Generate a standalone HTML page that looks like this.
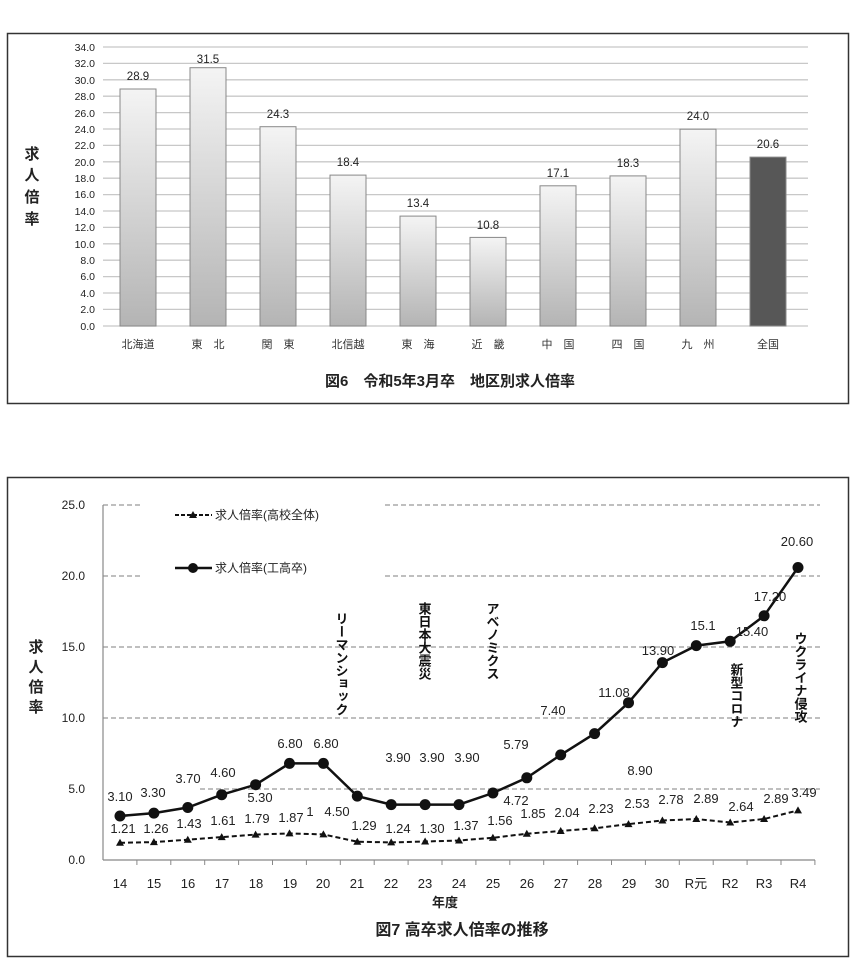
<!DOCTYPE html>
<html><head><meta charset="utf-8"><style>
body{margin:0;background:#fff}
svg{display:block;font-family:"Liberation Sans","Noto Sans CJK JP",sans-serif}
</style></head><body>
<svg width="867" height="965" viewBox="0 0 867 965" xmlns="http://www.w3.org/2000/svg">
<defs>
<linearGradient id="g" x1="0" y1="0" x2="0" y2="1"><stop offset="0" stop-color="#f4f4f4"/><stop offset="1" stop-color="#b4b4b4"/></linearGradient>
</defs>
<rect x="7.5" y="33.5" width="841" height="370" fill="#fff" stroke="#333" stroke-width="1.5"/>
<g stroke="#c8c8c8" stroke-width="1.3">
<line x1="103" x2="808" y1="47" y2="47"/><line x1="103" x2="808" y1="63.4" y2="63.4"/><line x1="103" x2="808" y1="79.8" y2="79.8"/><line x1="103" x2="808" y1="96.2" y2="96.2"/><line x1="103" x2="808" y1="112.6" y2="112.6"/><line x1="103" x2="808" y1="129" y2="129"/><line x1="103" x2="808" y1="145.4" y2="145.4"/><line x1="103" x2="808" y1="161.8" y2="161.8"/><line x1="103" x2="808" y1="178.2" y2="178.2"/><line x1="103" x2="808" y1="194.6" y2="194.6"/><line x1="103" x2="808" y1="211" y2="211"/><line x1="103" x2="808" y1="227.4" y2="227.4"/><line x1="103" x2="808" y1="243.8" y2="243.8"/><line x1="103" x2="808" y1="260.2" y2="260.2"/><line x1="103" x2="808" y1="276.6" y2="276.6"/><line x1="103" x2="808" y1="293" y2="293"/><line x1="103" x2="808" y1="309.4" y2="309.4"/><line x1="103" x2="808" y1="326" y2="326"/>
</g>
<g font-size="10.5" fill="#222" text-anchor="end">
<text x="95" y="51">34.0</text><text x="95" y="67">32.0</text><text x="95" y="84">30.0</text><text x="95" y="100">28.0</text><text x="95" y="117">26.0</text><text x="95" y="133">24.0</text><text x="95" y="149">22.0</text><text x="95" y="166">20.0</text><text x="95" y="182">18.0</text><text x="95" y="198">16.0</text><text x="95" y="215">14.0</text><text x="95" y="231">12.0</text><text x="95" y="248">10.0</text><text x="95" y="264">8.0</text><text x="95" y="280">6.0</text><text x="95" y="297">4.0</text><text x="95" y="313">2.0</text><text x="95" y="330">0.0</text>
</g>
<g stroke="#888" stroke-width="1" fill="url(#g)">
<rect x="120" y="89" width="36" height="237"/>
<rect x="190" y="67.7" width="36" height="258.3"/>
<rect x="260" y="126.7" width="36" height="199.3"/>
<rect x="330" y="175.1" width="36" height="150.9"/>
<rect x="400" y="216.1" width="36" height="109.9"/>
<rect x="470" y="237.4" width="36" height="88.6"/>
<rect x="540" y="185.8" width="36" height="140.2"/>
<rect x="610" y="175.9" width="36" height="150.1"/>
<rect x="680" y="129.2" width="36" height="196.8"/>
<rect x="750" y="157.1" width="36" height="168.9" fill="#575757"/>
</g>
<g font-size="11.5" fill="#222" text-anchor="middle">
<text x="138" y="80">28.9</text><text x="208" y="63">31.5</text><text x="278" y="118">24.3</text><text x="348" y="166">18.4</text><text x="418" y="207">13.4</text><text x="488" y="229">10.8</text><text x="558" y="177">17.1</text><text x="628" y="167">18.3</text><text x="698" y="120">24.0</text><text x="768" y="148">20.6</text>
</g>
<g font-size="11" fill="#333" text-anchor="middle">
<text x="138" y="348">北海道</text><text x="208" y="348">東　北</text><text x="278" y="348">関　東</text><text x="348" y="348">北信越</text><text x="418" y="348">東　海</text><text x="488" y="348">近　畿</text><text x="558" y="348">中　国</text><text x="628" y="348">四　国</text><text x="698" y="348">九　州</text><text x="768" y="348">全国</text>
</g>
<g font-size="15" font-weight="bold" fill="#222" text-anchor="middle">
<text x="32" y="159">求</text><text x="32" y="180">人</text><text x="32" y="202">倍</text><text x="32" y="224">率</text>
</g>
<text x="450" y="386" font-size="15" font-weight="bold" fill="#222" text-anchor="middle">図6　令和5年3月卒　地区別求人倍率</text>

<rect x="7.5" y="477.5" width="841" height="479" fill="#fff" stroke="#333" stroke-width="1.5"/>
<g stroke="#999" stroke-width="1.3" stroke-dasharray="5,3">
<line x1="103" x2="140" y1="505" y2="505"/><line x1="385" x2="820" y1="505" y2="505"/>
<line x1="103" x2="140" y1="576" y2="576"/><line x1="385" x2="820" y1="576" y2="576"/>
<line x1="103" x2="820" y1="647" y2="647"/>
<line x1="103" x2="820" y1="718" y2="718"/>
<line x1="200" x2="820" y1="789" y2="789"/>
</g>
<line x1="103" x2="103" y1="505" y2="860" stroke="#888" stroke-width="1.2"/>
<line x1="103" x2="815" y1="860" y2="860" stroke="#888" stroke-width="1.2"/>
<g stroke="#888" stroke-width="1">
<line x1="136.9" x2="136.9" y1="860" y2="865"/><line x1="170.8" x2="170.8" y1="860" y2="865"/><line x1="204.7" x2="204.7" y1="860" y2="865"/><line x1="238.6" x2="238.6" y1="860" y2="865"/><line x1="272.5" x2="272.5" y1="860" y2="865"/><line x1="306.4" x2="306.4" y1="860" y2="865"/><line x1="340.3" x2="340.3" y1="860" y2="865"/><line x1="374.2" x2="374.2" y1="860" y2="865"/><line x1="408.1" x2="408.1" y1="860" y2="865"/><line x1="442" x2="442" y1="860" y2="865"/><line x1="475.9" x2="475.9" y1="860" y2="865"/><line x1="509.8" x2="509.8" y1="860" y2="865"/><line x1="543.7" x2="543.7" y1="860" y2="865"/><line x1="577.6" x2="577.6" y1="860" y2="865"/><line x1="611.5" x2="611.5" y1="860" y2="865"/><line x1="645.4" x2="645.4" y1="860" y2="865"/><line x1="679.3" x2="679.3" y1="860" y2="865"/><line x1="713.2" x2="713.2" y1="860" y2="865"/><line x1="747.1" x2="747.1" y1="860" y2="865"/><line x1="781" x2="781" y1="860" y2="865"/><line x1="814.9" x2="814.9" y1="860" y2="865"/>
</g>
<g font-size="12" fill="#222" text-anchor="end">
<text x="85" y="509">25.0</text><text x="85" y="580">20.0</text><text x="85" y="651">15.0</text><text x="85" y="722">10.0</text><text x="85" y="793">5.0</text><text x="85" y="864">0.0</text>
</g>
<g font-size="13" fill="#222" text-anchor="middle">
<text x="120" y="888">14</text><text x="154" y="888">15</text><text x="188" y="888">16</text><text x="222" y="888">17</text><text x="256" y="888">18</text><text x="290" y="888">19</text><text x="323" y="888">20</text><text x="357" y="888">21</text><text x="391" y="888">22</text><text x="425" y="888">23</text><text x="459" y="888">24</text><text x="493" y="888">25</text><text x="527" y="888">26</text><text x="561" y="888">27</text><text x="595" y="888">28</text><text x="629" y="888">29</text><text x="662" y="888">30</text><text x="696" y="888">R元</text><text x="730" y="888">R2</text><text x="764" y="888">R3</text><text x="798" y="888">R4</text>
</g>
<text x="445" y="907" font-size="13" font-weight="bold" fill="#222" text-anchor="middle">年度</text>
<text x="462" y="935" font-size="16" font-weight="bold" fill="#222" text-anchor="middle">図7 高卒求人倍率の推移</text>
<g font-size="15" font-weight="bold" fill="#222" text-anchor="middle">
<text x="36" y="652">求</text><text x="36" y="672">人</text><text x="36" y="692">倍</text><text x="36" y="712">率</text>
</g>
<line x1="175" x2="212" y1="515" y2="515" stroke="#111" stroke-width="2" stroke-dasharray="4,2"/>
<polygon points="193,511 197,518 189,518" fill="#111"/>
<text x="215" y="519" font-size="12" fill="#222">求人倍率(高校全体)</text>
<line x1="175" x2="212" y1="568" y2="568" stroke="#111" stroke-width="2.5"/>
<circle cx="193" cy="568" r="5" fill="#111"/>
<text x="215" y="572" font-size="12" fill="#222">求人倍率(工高卒)</text>
<polyline fill="none" stroke="#111" stroke-width="2" stroke-dasharray="5,3" points="120,842.8 153.9,842.1 187.8,839.7 221.7,837.1 255.6,834.6 289.5,833.4 323.4,834.4 357.3,841.7 391.2,842.4 425.1,841.5 459,840.5 492.9,837.8 526.8,833.7 560.7,831 594.6,828.3 628.5,824.1 662.4,820.5 696.3,819 730.2,822.5 764.1,819 798,810.4"/>
<g fill="#111">
<polygon points="120,838.8 124,845.8 116,845.8"/><polygon points="153.9,838.1 157.9,845.1 149.9,845.1"/><polygon points="187.8,835.7 191.8,842.7 183.8,842.7"/><polygon points="221.7,833.1 225.7,840.1 217.7,840.1"/><polygon points="255.6,830.6 259.6,837.6 251.6,837.6"/><polygon points="289.5,829.4 293.5,836.4 285.5,836.4"/><polygon points="323.4,830.4 327.4,837.4 319.4,837.4"/><polygon points="357.3,837.7 361.3,844.7 353.3,844.7"/><polygon points="391.2,838.4 395.2,845.4 387.2,845.4"/><polygon points="425.1,837.5 429.1,844.5 421.1,844.5"/><polygon points="459,836.5 463,843.5 455,843.5"/><polygon points="492.9,833.8 496.9,840.8 488.9,840.8"/><polygon points="526.8,829.7 530.8,836.7 522.8,836.7"/><polygon points="560.7,827 564.7,834 556.7,834"/><polygon points="594.6,824.3 598.6,831.3 590.6,831.3"/><polygon points="628.5,820.1 632.5,827.1 624.5,827.1"/><polygon points="662.4,816.5 666.4,823.5 658.4,823.5"/><polygon points="696.3,815 700.3,822 692.3,822"/><polygon points="730.2,818.5 734.2,825.5 726.2,825.5"/><polygon points="764.1,815 768.1,822 760.1,822"/><polygon points="798,806.4 802,813.4 794,813.4"/>
</g>
<polyline fill="none" stroke="#111" stroke-width="2.5" points="120,816 153.9,813.1 187.8,807.5 221.7,794.7 255.6,784.7 289.5,763.4 323.4,763.4 357.3,796.1 391.2,804.6 425.1,804.6 459,804.6 492.9,793 526.8,777.8 560.7,754.9 594.6,733.6 628.5,702.7 662.4,662.6 696.3,645.6 730.2,641.3 764.1,615.8 798,567.5"/>
<g fill="#111">
<circle cx="120" cy="816" r="5.5"/><circle cx="153.9" cy="813.1" r="5.5"/><circle cx="187.8" cy="807.5" r="5.5"/><circle cx="221.7" cy="794.7" r="5.5"/><circle cx="255.6" cy="784.7" r="5.5"/><circle cx="289.5" cy="763.4" r="5.5"/><circle cx="323.4" cy="763.4" r="5.5"/><circle cx="357.3" cy="796.1" r="5.5"/><circle cx="391.2" cy="804.6" r="5.5"/><circle cx="425.1" cy="804.6" r="5.5"/><circle cx="459" cy="804.6" r="5.5"/><circle cx="492.9" cy="793" r="5.5"/><circle cx="526.8" cy="777.8" r="5.5"/><circle cx="560.7" cy="754.9" r="5.5"/><circle cx="594.6" cy="733.6" r="5.5"/><circle cx="628.5" cy="702.7" r="5.5"/><circle cx="662.4" cy="662.6" r="5.5"/><circle cx="696.3" cy="645.6" r="5.5"/><circle cx="730.2" cy="641.3" r="5.5"/><circle cx="764.1" cy="615.8" r="5.5"/><circle cx="798" cy="567.5" r="5.5"/>
</g>
<g font-size="13" fill="#222" text-anchor="middle">
<text x="120" y="801">3.10</text><text x="153" y="797">3.30</text><text x="188" y="783">3.70</text><text x="223" y="777">4.60</text><text x="260" y="802">5.30</text><text x="290" y="748">6.80</text><text x="326" y="748">6.80</text><text x="310" y="816">1</text><text x="337" y="816">4.50</text>
<text x="398" y="762">3.90</text><text x="432" y="762">3.90</text><text x="467" y="762">3.90</text><text x="516" y="749">5.79</text><text x="553" y="715">7.40</text><text x="640" y="775">8.90</text><text x="614" y="697">11.08</text><text x="658" y="655">13.90</text><text x="703" y="630">15.1</text><text x="752" y="636">15.40</text><text x="770" y="601">17.20</text><text x="797" y="546">20.60</text>
<text x="123" y="833">1.21</text><text x="156" y="833">1.26</text><text x="189" y="828">1.43</text><text x="223" y="825">1.61</text><text x="257" y="823">1.79</text><text x="291" y="822">1.87</text><text x="364" y="830">1.29</text><text x="398" y="833">1.24</text><text x="432" y="833">1.30</text><text x="466" y="830">1.37</text><text x="500" y="825">1.56</text><text x="516" y="805">4.72</text><text x="533" y="818">1.85</text><text x="567" y="817">2.04</text><text x="601" y="813">2.23</text><text x="637" y="808">2.53</text><text x="671" y="804">2.78</text><text x="706" y="803">2.89</text><text x="741" y="811">2.64</text><text x="776" y="803">2.89</text><text x="804" y="797">3.49</text>
</g>
<g font-size="13" fill="#111" font-weight="bold" text-anchor="start" style="writing-mode:vertical-rl">
<text x="341" y="612">リーマンショック</text>
<text x="424" y="602">東日本大震災</text>
<text x="492" y="602">アベノミクス</text>
<text x="736" y="663">新型コロナ</text>
<text x="800" y="632">ウクライナ侵攻</text>
</g>
</svg>
</body></html>
